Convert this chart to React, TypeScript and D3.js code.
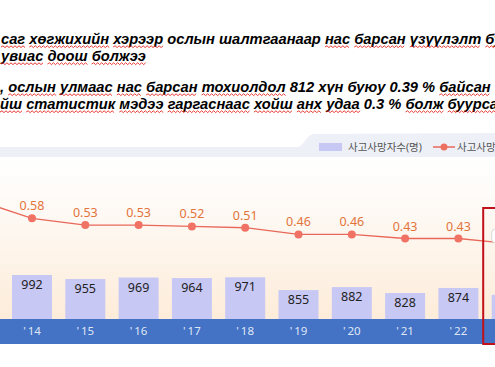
import React, { useEffect, useRef } from 'react';
import * as d3 from 'd3';

const W = 495;
const H = 367;

// paragraph lines, flag = word carries a red spell-check squiggle
const textLines: { words: [string, boolean][]; x: number; y: number }[] = [
  { x: 1, y: 44, words: [['саг', true], ['хөгжихийн', true], ['хэрээр', true], ['ослын', false], ['шалтгаанаар', false], ['нас', true], ['барсан', true], ['үзүүлэлт', true], ['бу', true]] },
  { x: 1, y: 61, words: [['увиас', true], ['доош', true], ['болжээ', true]] },
  { x: 0, y: 92, words: [[',', false], ['ослын', true], ['улмаас', true], ['нас', true], ['барсан', true], ['тохиолдол', true], ['812', false], ['хүн', false], ['буюу', false], ['0.39', false], ['%', false], ['байсан', true]] },
  { x: 0, y: 109, words: [['йш', true], ['статистик', true], ['мэдээ', true], ['гаргаснаас', true], ['хойш', true], ['анх', true], ['удаа', true], ['0.3', false], ['%', false], ['болж', true], ['буурса', true]] },
];

const years = ["'13", "'14", "'15", "'16", "'17", "'18", "'19", "'20", "'21", "'22", "'23"];
const deaths = [1090, 992, 955, 969, 964, 971, 855, 882, 828, 874, 812];
const rates = [0.71, 0.58, 0.53, 0.53, 0.52, 0.51, 0.46, 0.46, 0.43, 0.43, 0.39];
const legendLabels = ['사고사망자수(명)', '사고사망만인율(‱)'];

const App: React.FC = () => {
  const textRef = useRef<SVGGElement>(null);
  const waveRef = useRef<SVGGElement>(null);

  const axisTop = 319;
  const axisBottom = 344;

  const x = d3.scalePoint<string>().domain(years).range([-21.3, 511.7]);
  const yBar = d3.scaleLinear().domain([592, 992]).range([axisTop, 275]);
  const yRate = d3.scaleLinear().domain([0.43, 0.58]).range([238.5, 218.3]);
  const barW = 40;

  const pts = years.map((yr, i) => [x(yr) as number, yRate(rates[i])] as [number, number]);
  const linePath = d3.line()(pts) || '';

  const last = years.length - 1;
  const lastX = x(years[last]) as number;
  const lastY = yRate(rates[last]);

  const font = "'Noto Sans', 'Noto Sans CJK KR', sans-serif";

  // squiggly underlines, measured off the rendered words
  useEffect(() => {
    if (!textRef.current || !waveRef.current) return;
    const g = d3.select(waveRef.current);
    g.selectAll('*').remove();
    d3.select(textRef.current).selectAll<SVGTSpanElement, unknown>('tspan.bad').each(function () {
      const len = this.getComputedTextLength();
      const start = this.getStartPositionOfChar(0);
      const y0 = start.y + 3;
      let d = `M${start.x},${y0}`;
      const step = 2;
      let up = true;
      for (let px = start.x + step; px <= start.x + len + 0.5; px += step) {
        d += `L${px},${y0 + (up ? -1.2 : 0.6)}`;
        up = !up;
      }
      g.append('path').attr('d', d).attr('fill', 'none').attr('stroke', '#e3241c').attr('stroke-width', 0.9);
    });
  }, []);

  return (
    <svg width={W} height={H} style={{ position: 'fixed', left: 0, top: 0, background: '#fff' }}>
      <defs>
        <linearGradient id="bg" x1="0" y1="0" x2="0" y2="1">
          <stop offset="0%" stopColor="#ffffff" />
          <stop offset="35%" stopColor="#fef9f4" />
          <stop offset="100%" stopColor="#fdecd9" />
        </linearGradient>
      </defs>

      {/* paragraph */}
      <g ref={textRef}>
        {textLines.map((ln, li) => (
          <text key={li} x={ln.x} y={ln.y} fontFamily="'Liberation Sans', Arial, sans-serif" fontWeight="bold"
            fontStyle="italic" fontSize={14.7} fill="#000" xmlSpace="preserve">
            {ln.words.map(([w, bad], wi) => (
              <React.Fragment key={wi}>
                <tspan className={bad ? 'bad' : undefined}>{w}</tspan>
                {wi < ln.words.length - 1 ? ' ' : ''}
              </React.Fragment>
            ))}
          </text>
        ))}
      </g>
      <g ref={waveRef} />

      {/* chart background */}
      <rect x={0} y={157} width={W} height={axisTop - 157} fill="url(#bg)" />

      {/* legend band */}
      <path d={`M0,147 L298,147 C303,147 306,135 314,134 L${W},133 L${W},157 L0,157 Z`} fill="#eef0f8" />
      <rect x={319} y={143} width={23} height={8} fill="#c8c8f4" />
      <text x={348} y={151} fontFamily={font} fontSize={10.5} fill="#555">{legendLabels[0]}</text>
      <line x1={433} x2={455} y1={147} y2={147} stroke="#e8685a" strokeWidth={1.5} />
      <circle cx={444} cy={147} r={3.5} fill="#ec6f60" />
      <text x={457} y={151} fontFamily={font} fontSize={10.5} fill="#555">{legendLabels[1]}</text>

      {/* bars */}
      {years.map((yr, i) => (
        <g key={yr}>
          <rect x={(x(yr) as number) - barW / 2} y={yBar(deaths[i])} width={barW}
            height={axisTop - yBar(deaths[i])} fill="#c8c8f5" />
          <text x={x(yr)} y={yBar(deaths[i]) + 14} textAnchor="middle" fontFamily={font}
            fontSize={12.5} fill="#222">{deaths[i]}</text>
        </g>
      ))}

      {/* axis band */}
      <rect x={0} y={axisTop} width={W} height={axisBottom - axisTop} fill="#4472c4" />
      {years.map(yr => (
        <text key={yr} x={x(yr)} y={335} textAnchor="middle" fontFamily={font} fontSize={11.5}
          fill="#dfe7f7">{yr.replace("'", "'\u2009")}</text>
      ))}

      {/* rate line */}
      <path d={linePath} fill="none" stroke="#e8685a" strokeWidth={1.3} />
      {pts.map(([px, py], i) => (
        <g key={i}>
          <circle cx={px} cy={py} r={4} fill="#ef7265" />
          {i < last && (
            <text x={px} y={py - 8} textAnchor="middle" fontFamily={font} fontSize={12.5}
              fill="#e2743a">{rates[i].toFixed(2)}</text>
          )}
        </g>
      ))}
      <rect x={lastX - 20} y={lastY - 15} width={40} height={14} rx={4} fill="#ffffff" stroke="#d8d8d8" />
      <text x={lastX} y={lastY - 4} textAnchor="middle" fontFamily={font} fontSize={12} fill="#e2743a">
        {rates[last].toFixed(2)}
      </text>

      {/* highlight box for the last year */}
      <rect x={lastX - 28.5} y={208} width={60} height={136} fill="none" stroke="#c0101a" strokeWidth={2} />
    </svg>
  );
};

export default App;
